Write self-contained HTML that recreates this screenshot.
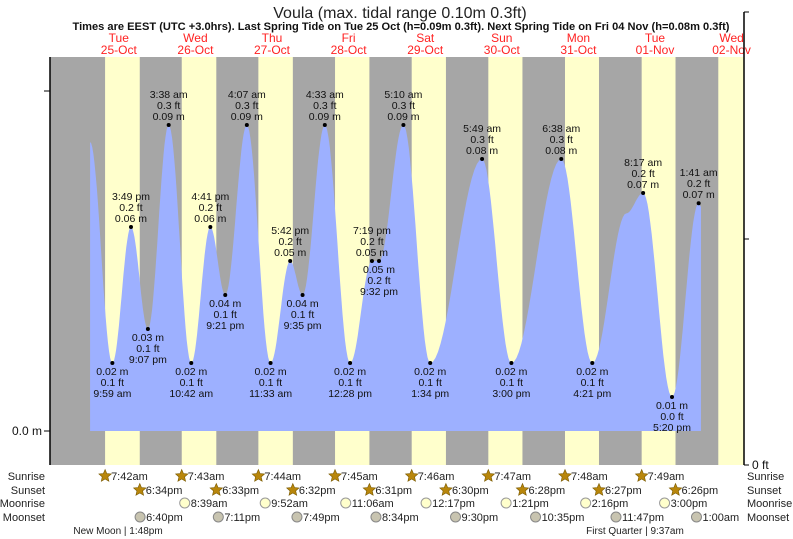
<!DOCTYPE html>
<html><head><meta charset="utf-8"><style>
body{margin:0;background:#fff;}
svg{display:block;font-family:"Liberation Sans",sans-serif;}
</style></head><body>
<svg id="c" width="793" height="539">
<text x="400" y="18" text-anchor="middle" font-size="16" fill="#222">Voula (max. tidal range 0.10m 0.3ft)</text>
<text x="401" y="30" text-anchor="middle" font-size="11" font-weight="bold" fill="#111" textLength="657" lengthAdjust="spacingAndGlyphs">Times are EEST (UTC +3.0hrs). Last Spring Tide on Tue 25 Oct (h=0.09m 0.3ft). Next Spring Tide on Fri 04 Nov (h=0.08m 0.3ft)</text>
<g id="bands"></g><g id="tide"></g><g id="labels"></g><g id="axes"></g><g id="bottom"></g>
</svg>
<script>
const dayNames=["Tue","Wed","Thu","Fri","Sat","Sun","Mon","Tue","Wed"];
const dayDates=["25-Oct","26-Oct","27-Oct","28-Oct","29-Oct","30-Oct","31-Oct","01-Nov","02-Nov"];
const sunrise=[7.70,7.72,7.73,7.75,7.77,7.78,7.80,7.82,7.83];
const sunset=[18.57,18.55,18.53,18.52,18.50,18.47,18.45,18.43];
const sunriseLbl=["7:42am","7:43am","7:44am","7:45am","7:46am","7:47am","7:48am","7:49am"];
const sunsetLbl=["6:34pm","6:33pm","6:32pm","6:31pm","6:30pm","6:28pm","6:27pm","6:26pm"];
const moonriseT=[[1,8.65],[2,9.87],[3,11.1],[4,12.28],[5,13.35],[6,14.27],[7,15.0]];
const moonriseLbl=["8:39am","9:52am","11:06am","12:17pm","1:21pm","2:16pm","3:00pm"];
const moonsetT=[[0,18.67],[1,19.18],[2,19.82],[3,20.57],[4,21.5],[5,22.58],[6,23.78],[8,1.0]];
const moonsetLbl=["6:40pm","7:11pm","7:49pm","8:34pm","9:30pm","10:35pm","11:47pm","1:00am"];
const tideDay=[0,0,0,0,1,1,1,1,2,2,2,2,3,3,3,3,4,4,5,5,6,6,7,7,7,8,8];
const tideHour=[3.0,9.98,15.82,21.12,3.63,10.7,16.68,21.35,4.12,11.55,17.7,21.58,4.55,12.47,19.32,21.53,5.17,13.57,5.82,15.0,6.63,16.35,3.0,8.28,17.33,1.68,2.4];
const tideM=[0.085,0.02,0.06,0.03,0.09,0.02,0.06,0.04,0.09,0.02,0.05,0.04,0.09,0.02,0.05,0.05,0.09,0.02,0.08,0.02,0.08,0.02,0.064,0.07,0.01,0.067,0.066];
const tideLbl=["","9:59 am","3:49 pm","9:07 pm","3:38 am","10:42 am","4:41 pm","9:21 pm","4:07 am","11:33 am","5:42 pm","9:35 pm","4:33 am","12:28 pm","7:19 pm","9:32 pm","5:10 am","1:34 pm","5:49 am","3:00 pm","6:38 am","4:21 pm","","8:17 am","5:20 pm","1:41 am",""];
const tideFt=["","0.1 ft","0.2 ft","0.1 ft","0.3 ft","0.1 ft","0.2 ft","0.1 ft","0.3 ft","0.1 ft","0.2 ft","0.1 ft","0.3 ft","0.1 ft","0.2 ft","0.2 ft","0.3 ft","0.1 ft","0.3 ft","0.1 ft","0.3 ft","0.1 ft","","0.2 ft","0.0 ft","0.2 ft",""];
const tideHigh=[1,0,1,0,1,0,1,0,1,0,1,0,1,0,1,0,1,0,1,0,1,0,1,1,0,1,1];

const NS="http://www.w3.org/2000/svg";
const X0=80.5,DAY=76.6,L=50,R=744,TOP=57,BOT=465,Y0=431,PXM=3400;
const xT=(d,h)=>X0+d*DAY+h*DAY/24;
const yM=m=>Y0-m*PXM;
function mk(tag,attrs,parent,txt){const e=document.createElementNS(NS,tag);for(const k in attrs)e.setAttribute(k,attrs[k]);if(txt!==undefined)e.textContent=txt;parent.appendChild(e);return e;}
const bands=document.getElementById('bands'),tide=document.getElementById('tide'),labels=document.getElementById('labels'),axes=document.getElementById('axes'),bottom=document.getElementById('bottom');
let r=mk('rect',{x:L,y:TOP,width:R-L,height:BOT-TOP,fill:'#a6a6a6'},bands);

for(let d=0;d<9;d++){
  const x1=xT(d,sunrise[d]);const x2=d<8?xT(d,sunset[d]):R;
  const b=mk('rect',{x:x1,y:TOP,width:Math.min(x2,R)-x1,height:BOT-TOP,fill:'#ffffcc'},bands);
  
  const cx=xT(d,12);
  const t1=mk('text',{x:cx,y:42,'text-anchor':'middle','font-size':12,fill:'#ff2222'},bands,dayNames[d]);
  
  const t2=mk('text',{x:cx,y:54,'text-anchor':'middle','font-size':12,fill:'#ff2222'},bands,dayDates[d]);
  
}
let pts=[];
for(let i=0;i<tideM.length-1;i++){
  const xa=xT(tideDay[i],tideHour[i]),xb=xT(tideDay[i+1],tideHour[i+1]);
  for(let s=0;s<=20;s++){const f=s/20;const m=tideM[i]+(tideM[i+1]-tideM[i])*(1-Math.cos(Math.PI*f))/2;pts.push([xa+(xb-xa)*f,yM(m)]);}
}
const first=pts[0][0],last=pts[pts.length-1][0];
let dstr='M'+first+','+Y0+' '+pts.map(p=>'L'+p[0].toFixed(1)+','+p[1].toFixed(1)).join(' ')+' L'+last+','+Y0+'Z';
const area=mk('path',{d:dstr,fill:'#9db0ff'},tide);

for(let i=0;i<tideM.length;i++){
  if(!tideLbl[i])continue;
  const x=xT(tideDay[i],tideHour[i]),y=yM(tideM[i]);
  const dot=mk('circle',{cx:x,cy:y,r:2,fill:'#000'},labels);
  
  const g=mk('text',{'font-size':10.5,fill:'#111','text-anchor':'middle'},labels);
  
  const lines=tideHigh[i]?[tideLbl[i],tideFt[i],tideM[i].toFixed(2)+' m']:[tideM[i].toFixed(2)+' m',tideFt[i],tideLbl[i]];
  const y0=tideHigh[i]?y-27:y+12;
  lines.forEach((s,k)=>mk('tspan',{x:x,y:y0+k*11},g,s));
}
const la=mk('line',{x1:L,y1:TOP,x2:L,y2:BOT,stroke:'#000','stroke-width':1.5},axes);

mk('line',{x1:44,y1:yM(0.1),x2:L,y2:yM(0.1),stroke:'#000'},axes);
mk('line',{x1:44,y1:Y0,x2:L,y2:Y0,stroke:'#000'},axes);
const yl=mk('text',{x:42,y:Y0+4,'text-anchor':'end','font-size':12,fill:'#111'},axes,'0.0 m');

const ra=mk('line',{x1:R,y1:12,x2:R,y2:BOT,stroke:'#000','stroke-width':1.5},axes);

mk('line',{x1:R,y1:12,x2:R+5,y2:12,stroke:'#000'},axes);
mk('line',{x1:R,y1:239,x2:R+5,y2:239,stroke:'#000'},axes);
mk('line',{x1:R,y1:BOT,x2:R+5,y2:BOT,stroke:'#000'},axes);
const yr=mk('text',{x:752,y:469,'font-size':12,fill:'#111'},axes,'0 ft');

const rows=[['Sunrise',480],['Sunset',494],['Moonrise',507],['Moonset',521]];
rows.forEach(rw=>{
  const a=mk('text',{x:45,y:rw[1],'text-anchor':'end','font-size':11,fill:'#222'},bottom,rw[0]);
  
  const b=mk('text',{x:747,y:rw[1],'font-size':11,fill:'#222'},bottom,rw[0]);
  
});
function star(x,y){const p=[];for(let k=0;k<10;k++){const a=-Math.PI/2+k*Math.PI/5,rr=k%2?3:6.5;p.push((x+rr*Math.cos(a)).toFixed(1)+','+(y+rr*Math.sin(a)).toFixed(1));}
  const s=mk('polygon',{points:p.join(' '),fill:'#b8860b',stroke:'#7a5a00','stroke-width':0.6},bottom);
  }
function ev(x,y,lbl,name){const t=mk('text',{x:x+6,y:y+4,'font-size':11,fill:'#222'},bottom,lbl);}
for(let d=0;d<8;d++){const x=xT(d,sunrise[d]);star(x,476);ev(x,476,sunriseLbl[d],'sunrise-time');}
for(let d=0;d<8;d++){const x=xT(d,sunset[d]);star(x,490);ev(x,490,sunsetLbl[d],'sunset-time');}
moonriseT.forEach((m,i)=>{const x=xT(m[0],m[1]);const c=mk('circle',{cx:x,cy:503,r:5,fill:'#ffffcc',stroke:'#999'},bottom);ev(x,503,moonriseLbl[i],'moonrise-time');});
moonsetT.forEach((m,i)=>{const x=xT(m[0],m[1]);const c=mk('circle',{cx:x,cy:517,r:5,fill:'#c8c4b0',stroke:'#888'},bottom);ev(x,517,moonsetLbl[i],'moonset-time');});
const p1=mk('text',{x:118,y:534,'text-anchor':'middle','font-size':10,fill:'#222'},bottom,'New Moon | 1:48pm');

const p2=mk('text',{x:635,y:534,'text-anchor':'middle','font-size':10,fill:'#222'},bottom,'First Quarter | 9:37am');

</script>
</body></html>
